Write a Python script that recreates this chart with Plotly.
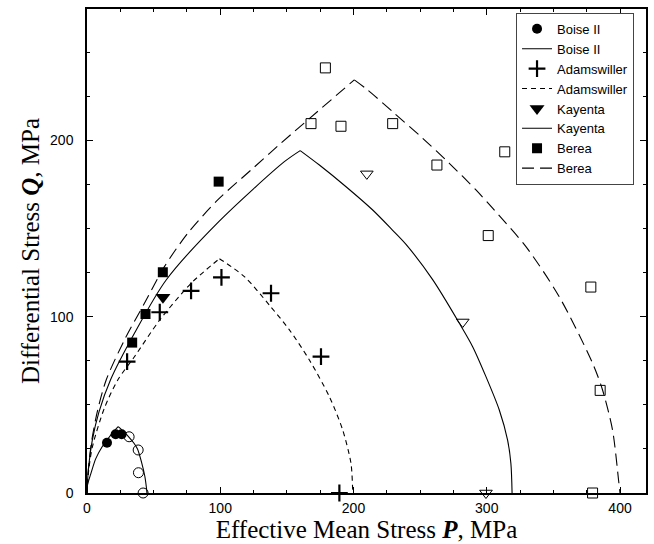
import plotly.graph_objects as go

# ---------------- data ----------------
# Boise II
boise_fill_p = [15.0, 21.5, 26.0]
boise_fill_q = [28.5, 33.3, 33.3]
boise_open_p = [31.6, 38.4, 38.6, 42.1]
boise_open_q = [31.9, 24.4, 11.5, 0.0]
boise_up_p = [0.0, 0.5, 2.9, 6.6, 11.6, 15.0, 19.0, 23.4]
boise_up_q = [0.0, 5.0, 11.0, 19.5, 26.5, 30.0, 34.0, 37.6]
boise_dn_p = [23.4, 28.0, 31.6, 35.0, 37.9, 41.1, 43.4, 44.6, 45.0]
boise_dn_q = [37.6, 34.5, 31.6, 28.5, 25.0, 17.0, 9.5, 3.0, 0.0]

# Adamswiller
adam_p = [30.1, 54.6, 78.1, 100.9, 138.1, 175.6, 189.4]
adam_q = [74.5, 102.5, 114.6, 122.3, 113.3, 77.3, 0.0]
adam_up_p = [0.0, 1.0, 4.0, 13.0, 23.1, 35.6, 54.6, 78.1, 99.4]
adam_up_q = [0.0, 11.0, 26.0, 48.0, 64.1, 77.3, 98.1, 118.9, 132.9]
adam_dn_p = [99.4, 118.1, 137.5, 151.9, 166.9, 181.9, 191.9, 198.1, 199.4, 199.6]
adam_dn_q = [132.9, 122.7, 106.0, 92.5, 75.4, 54.6, 35.7, 16.8, 1.7, 0.0]

# Kayenta
kay_fill_p = [57.0]
kay_fill_q = [111.0]
kay_open_p = [210.0, 282.0, 299.4]
kay_open_q = [181.0, 97.0, 0.0]
kay_up_p = [0.0, 1.0, 4.0, 9.0, 17.6, 35.6, 59.4, 98.9, 148.1, 160.0]
kay_up_q = [0.0, 13.0, 30.0, 46.0, 64.1, 90.6, 120.8, 153.9, 187.9, 194.2]
kay_dn_p = [160.0, 174.4, 194.4, 214.4, 229.4, 239.4, 259.4, 279.4, 289.4, 299.4, 309.4, 315.6, 318.1, 319.0]
kay_dn_q = [194.2, 186.0, 173.7, 160.5, 149.0, 141.0, 121.0, 96.3, 83.0, 66.0, 47.1, 30.1, 16.8, 0.0]

# Berea
berea_fill_p = [33.9, 43.9, 56.9, 98.8]
berea_fill_q = [85.3, 101.5, 125.2, 176.6]
berea_open_p = [178.9, 168.1, 190.6, 229.4, 262.6, 301.1, 313.5, 378.1, 385.1, 379.4]
berea_open_q = [241.1, 209.5, 208.0, 209.5, 186.0, 146.0, 193.5, 116.8, 58.2, 0.0]
berea_up_p = [0.0, 1.0, 3.4, 8.0, 14.4, 28.1, 43.1, 58.1, 75.6, 98.1, 123.1, 145.6, 200.6]
berea_up_q = [0.0, 13.0, 29.0, 47.0, 64.1, 86.8, 107.6, 128.4, 147.3, 166.2, 183.2, 198.4, 234.3]
berea_dn_p = [200.6, 210.6, 230.6, 251.9, 271.9, 291.9, 304.4, 329.4, 354.4, 379.4, 386.9, 394.4, 398.9, 400.0]
berea_dn_q = [234.3, 228.6, 215.4, 201.2, 187.0, 171.9, 161.5, 139.7, 111.3, 73.6, 58.4, 35.7, 7.4, 0.0]

x_ticks = [0, 100, 200, 300, 400]
y_ticks = [0, 100, 200]

# ---------------- figure ----------------
BLACK = "black"
fig = go.Figure()


def add_curve(name, up_p, up_q, dn_p, dn_q, dash, rank):
    fig.add_trace(go.Scatter(x=up_p, y=up_q, mode="lines", name=name,
                             line=dict(color=BLACK, width=1.1, dash=dash, shape="spline", smoothing=0.8),
                             legendgroup=name + "_l", legendrank=rank))
    fig.add_trace(go.Scatter(x=dn_p, y=dn_q, mode="lines", name=name, showlegend=False,
                             line=dict(color=BLACK, width=1.1, dash=dash, shape="spline", smoothing=0.8),
                             legendgroup=name + "_l"))


def add_markers(name, p, q, symbol, size, lw, rank, show=True):
    fig.add_trace(go.Scatter(x=p, y=q, mode="markers", name=name, showlegend=show,
                             legendrank=rank, cliponaxis=False,
                             marker=dict(symbol=symbol, size=size, color=BLACK,
                                         line=dict(color=BLACK, width=lw))))


add_curve("Boise II", boise_up_p, boise_up_q, boise_dn_p, boise_dn_q, "solid", 2)
add_curve("Adamswiller", adam_up_p, adam_up_q, adam_dn_p, adam_dn_q, "5px,4px", 4)
add_curve("Kayenta", kay_up_p, kay_up_q, kay_dn_p, kay_dn_q, "solid", 6)
add_curve("Berea", berea_up_p, berea_up_q, berea_dn_p, berea_dn_q, "12px,6px", 8)

add_markers("Boise II", boise_fill_p, boise_fill_q, "circle", 10, 0, 1)
add_markers("Boise II open", boise_open_p, boise_open_q, "circle-open", 10, 1, 20, show=False)
add_markers("Adamswiller", adam_p, adam_q, "cross-thin", 12, 2.2, 3)
add_markers("Kayenta", kay_fill_p, kay_fill_q, "triangle-down", 13, 0, 5)
add_markers("Kayenta open", kay_open_p, kay_open_q, "triangle-down-open", 11, 1, 21, show=False)
add_markers("Berea", berea_fill_p, berea_fill_q, "square", 10, 0, 7)
add_markers("Berea open", berea_open_p, berea_open_q, "square-open", 10, 1, 22, show=False)

tickfont = dict(family="Liberation Sans, Arial, Helvetica, sans-serif", size=14, color=BLACK)
titlefont = dict(family="Liberation Serif, Times New Roman, serif", size=25, color=BLACK)

fig.update_xaxes(range=[0, 419.5], tickvals=x_ticks, ticktext=[str(v) for v in x_ticks],
                 ticks="inside", ticklen=6, tickwidth=1.2, tickcolor=BLACK,
                 minor=dict(dtick=25, ticks="inside", ticklen=3, tickwidth=1, tickcolor=BLACK),
                 showline=True, linecolor=BLACK, linewidth=1.5, mirror="ticks",
                 showgrid=False, zeroline=False, tickfont=tickfont, ticklabelstandoff=1,
                 title=dict(text="Effective Mean Stress <b><i>P</i></b>, MPa", font=titlefont, standoff=0))
fig.update_yaxes(range=[0, 274.5], tickvals=y_ticks, ticktext=[str(v) for v in y_ticks],
                 ticks="inside", ticklen=6, tickwidth=1.2, tickcolor=BLACK,
                 minor=dict(dtick=25, ticks="inside", ticklen=3, tickwidth=1, tickcolor=BLACK),
                 showline=True, linecolor=BLACK, linewidth=1.5, mirror="ticks",
                 showgrid=False, zeroline=False, tickfont=tickfont, ticklabelstandoff=9,
                 title=dict(text="Differential Stress <b><i>Q</i></b>, MPa", font=titlefont, standoff=3))

fig.update_layout(
    width=654, height=544,
    margin=dict(l=87, r=8, t=9, b=51, autoexpand=False),
    paper_bgcolor="white", plot_bgcolor="white",
    showlegend=True,
    legend=dict(x=0.7675, y=0.992, xanchor="left", yanchor="top",
                bgcolor="white", bordercolor="#444", borderwidth=1,
                font=dict(family="Liberation Sans, Arial, Helvetica, sans-serif", size=13, color=BLACK),
                tracegroupgap=0, traceorder="normal"),
)

fig.write_html("out.html")
